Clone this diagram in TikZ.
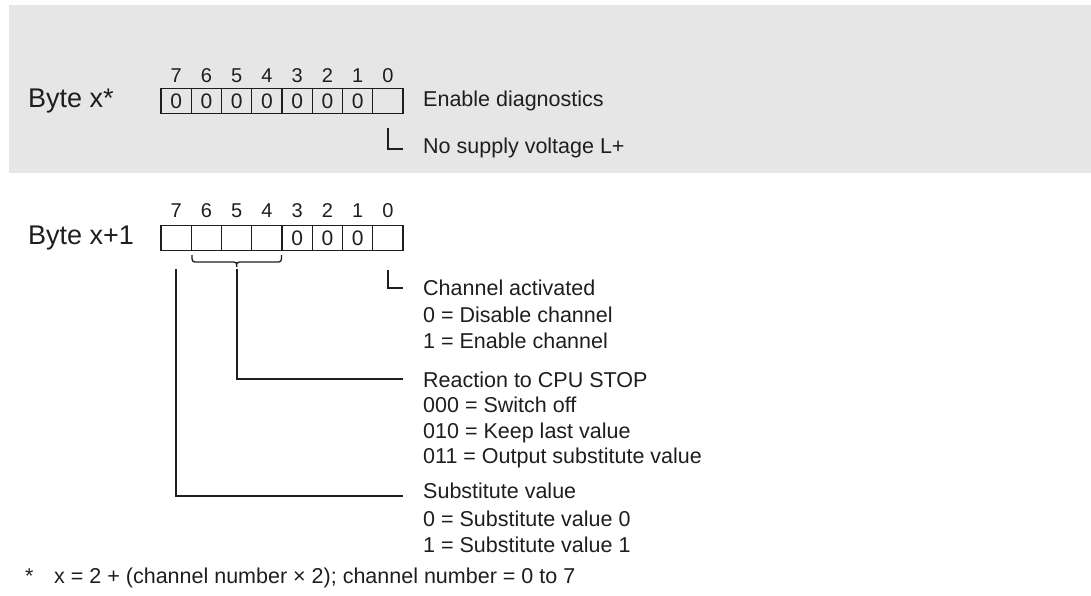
\documentclass[tikz,border=0pt]{standalone}
\usepackage{fontspec}
\setmainfont{Liberation Sans}
\definecolor{ink}{HTML}{1E1E1E}
\definecolor{band}{HTML}{E6E6E6}
\begin{document}
\begin{tikzpicture}[x=1pt,y=-1pt,
  txt/.style={anchor=base west, inner sep=0, font=\fontsize{21.5}{26}\selectfont, text=ink},
  bytelbl/.style={anchor=base west, inner sep=0, font=\fontsize{27}{30}\selectfont, text=ink},
  bitnum/.style={anchor=base, inner sep=0, font=\fontsize{20}{22}\selectfont, text=ink},
  cell/.style={draw=ink, line width=1.2pt, minimum width=30.25pt, minimum height=25pt, inner sep=0, outer sep=0, font=\fontsize{21}{22}\selectfont, text=ink},
  conn/.style={draw=ink, line width=1.9pt},
  bracestyle/.style={draw=ink, line width=1.3pt}]
\useasboundingbox (0,0) rectangle (1091,596);
\fill[band] (9,5) rectangle (1091,173);

% Byte x*
\node[bytelbl] (lbl1) at (28,108) {Byte x*};
\foreach \b/\t in {7/0,6/0,5/0,4/0,3/0,2/0,1/0,0/{}} {
  \node[cell] (a\b) at ({161+30.25*(7-\b)+15.125},100.8) {\t};
  \node[bitnum] (na\b) at ({161+30.25*(7-\b)+15.125},83) {\b};
}
\node[txt] (diag) at (423,107) {Enable diagnostics};
\node[txt] (nosup) at (423,154) {No supply voltage L+};
\coordinate (e1) at (403,149);
\draw[conn] ([yshift=-15pt]a0.south) |- (e1);

% Byte x+1
\node[bytelbl] (lbl2) at (28,244) {Byte x+1};
\foreach \b/\t in {7/{},6/{},5/{},4/{},3/0,2/0,1/0,0/{}} {
  \node[cell] (b\b) at ({161+30.25*(7-\b)+15.125},238.3) {\t};
  \node[bitnum] (nb\b) at ({161+30.25*(7-\b)+15.125},217) {\b};
}

% brace under bits 6..4
\coordinate (br) at (236.7,267);
\draw[bracestyle] (192,255) .. controls (192,262) .. (198,262) -- (230,262)
  .. controls (236.7,262) .. (br) .. controls (236.7,262) .. (243,262) -- (275.5,262)
  .. controls (281.5,262) .. (281.5,255);

% descriptions
\node[txt] (chan) at (423,295) {Channel activated};
\node[txt] (chan1) at (423,322) {0 = Disable channel};
\node[txt] (chan2) at (423,348) {1 = Enable channel};
\node[txt] (reac) at (423,387) {Reaction to CPU STOP};
\node[txt] (reac1) at (423,412.5) {000 = Switch off};
\node[txt] (reac2) at (423,438) {010 = Keep last value};
\node[txt] (reac3) at (423,463.5) {011 = Output substitute value};
\node[txt] (subs) at (423,498) {Substitute value};
\node[txt] (subs1) at (423,526) {0 = Substitute value 0};
\node[txt] (subs2) at (423,552) {1 = Substitute value 1};

\coordinate (e2) at (403,288);
\coordinate (e3) at (403,379);
\coordinate (e4) at (403,496);
\draw[conn] ([yshift=-19.5pt]b0.south) |- (e2);
\draw[conn] ([yshift=-2pt]br) |- (e3);
\draw[conn] ([yshift=-18.5pt]b7.south) |- (e4);

% footnote
\node[txt] (star) at (25,583) {*};
\node[txt] (foot) at (54,583) {x = 2 + (channel number × 2); channel number = 0 to 7};
\end{tikzpicture}
\end{document}
